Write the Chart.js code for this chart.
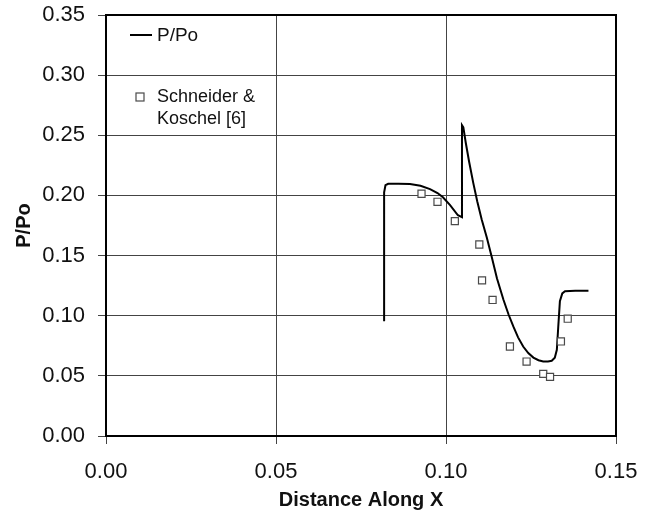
<!DOCTYPE html>
<html>
<head>
<meta charset="utf-8">
<script src="https://cdn.jsdelivr.net/npm/chart.js@4.4.1/dist/chart.umd.min.js"></script>
<style>
  html, body { margin: 0; padding: 0; background: #fff; }
  #wrap { width: 649px; height: 510px; }
</style>
</head>
<body>
<div id="wrap"><canvas id="chart_pressure"></canvas></div>
<script>
// computed P/Po along the wall
var lineX = [0.0818, 0.0818, 0.0822, 0.0830, 0.0860, 0.0894, 0.0925, 0.0953, 0.0975, 0.0991, 0.1012, 0.1035, 0.1047,
             0.1047, 0.1051, 0.1058, 0.1068, 0.1080, 0.1092, 0.1105, 0.1120, 0.1134, 0.1150, 0.1169, 0.1184, 0.1198,
             0.1212, 0.1227, 0.1242, 0.1257, 0.1272, 0.1286, 0.1300, 0.1311, 0.1320, 0.1326, 0.1330, 0.1335, 0.1342,
             0.1350, 0.1380, 0.1419];
var lineY = [0.0953, 0.2025, 0.2085, 0.2097, 0.2097, 0.2094, 0.2080, 0.2052, 0.2020, 0.1985, 0.1920, 0.1835, 0.1819,
             0.2583, 0.2565, 0.2440, 0.2280, 0.2106, 0.1950, 0.1800, 0.1650, 0.1494, 0.1310, 0.1133, 0.1010, 0.0911,
             0.0820, 0.0744, 0.0690, 0.0652, 0.0630, 0.0620, 0.0620, 0.0625, 0.0650, 0.0717, 0.0900, 0.1120, 0.1185,
             0.1203, 0.1208, 0.1208];
// Schneider & Koschel [6] experiment
var expX = [0.0928, 0.0975, 0.1026, 0.1098, 0.1106, 0.1137, 0.1188, 0.1237, 0.1286, 0.1306, 0.1338, 0.1358];
var expY = [0.2014, 0.1947, 0.1786, 0.1592, 0.1294, 0.1131, 0.0744, 0.0619, 0.0517, 0.0492, 0.0786, 0.0975];

var seriesNames = ['P/Po', 'Schneider & Koschel [6]'];
var xTicks = [0.00, 0.05, 0.10, 0.15];
var yTicks = [0.00, 0.05, 0.10, 0.15, 0.20, 0.25, 0.30, 0.35];

var FONT = "'Liberation Sans', Arial, sans-serif";

var linePoints = lineX.map(function (x, i) { return { x: x, y: lineY[i] }; });
var expPoints = expX.map(function (x, i) { return { x: x, y: expY[i] }; });

var chart_pressure = new Chart(document.getElementById('chart_pressure'), {
    type: 'scatter',
    data: {
        datasets: [
            {
                label: seriesNames[0],
                data: linePoints,
                showLine: true,
                borderColor: '#000',
                borderWidth: 2,
                pointRadius: 0,
                tension: 0,
                order: 1
            },
            {
                label: seriesNames[1],
                data: expPoints,
                showLine: false,
                pointStyle: 'rect',
                pointRadius: 5,
                backgroundColor: '#fff',
                borderColor: '#4a4a4a',
                borderWidth: 1.2,
                order: 0
            }
        ]
    },
    options: {
        animation: false,
        responsive: true,
        maintainAspectRatio: false,
        layout: { padding: { left: 0, top: 15, right: 33, bottom: 0 } },
        plugins: {
            legend: { display: false },
            tooltip: { enabled: false },
            title: { display: false }
        },
        scales: {
            x: {
                type: 'linear',
                min: 0,
                max: 0.15,
                afterBuildTicks: function (s) { s.ticks = xTicks.map(function (v) { return { value: v }; }); },
                afterFit: function (s) { s.height = 74; s.paddingLeft = 0; s.paddingRight = 0; },
                ticks: {
                    color: '#111',
                    font: { family: FONT, size: 22 },
                    padding: 15,
                    maxRotation: 0,
                    callback: function (v) { return Number(v).toFixed(2); }
                },
                grid: { color: '#444', lineWidth: 1, tickLength: 8, tickColor: '#444' },
                border: { color: '#000', width: 2 },
                title: {
                    display: true,
                    text: 'Distance Along X',
                    color: '#111',
                    font: { family: FONT, size: 20, weight: 'bold', lineHeight: 1 },
                    padding: { top: 0, bottom: 0 }
                }
            },
            y: {
                type: 'linear',
                min: 0,
                max: 0.35,
                afterBuildTicks: function (s) { s.ticks = yTicks.map(function (v) { return { value: v }; }); },
                afterFit: function (s) { s.width = 106; s.paddingTop = 0; s.paddingBottom = 0; },
                ticks: {
                    color: '#111',
                    font: { family: FONT, size: 22 },
                    padding: 13,
                    callback: function (v) { return Number(v).toFixed(2); }
                },
                grid: { color: '#444', lineWidth: 1, tickLength: 8, tickColor: '#444' },
                border: { color: '#000', width: 2 },
                title: {
                    display: true,
                    text: 'P/Po',
                    color: '#111',
                    font: { family: FONT, size: 20, weight: 'bold' },
                    padding: { top: 12, bottom: 0 }
                }
            }
        }
    },
    plugins: [{
        id: 'whiteBg',
        beforeDraw: (chart) => {
            const ctx = chart.canvas.getContext('2d');
            ctx.save();
            ctx.globalCompositeOperation = 'destination-over';
            ctx.fillStyle = 'white';
            ctx.fillRect(0, 0, chart.canvas.width, chart.canvas.height);
            ctx.restore();
        }
    }, {
        // heavy frame on the top and right edges too
        id: 'frame',
        beforeDatasetsDraw: (chart) => {
            const ctx = chart.ctx;
            const a = chart.chartArea;
            ctx.save();
            ctx.strokeStyle = '#000';
            ctx.lineWidth = 2;
            ctx.beginPath();
            ctx.moveTo(a.left, a.top);
            ctx.lineTo(a.right, a.top);
            ctx.lineTo(a.right, a.bottom);
            ctx.stroke();
            ctx.restore();
        }
    }, {
        // legend sits inside the plot, top left, second label wraps
        id: 'insideLegend',
        afterDraw: (chart) => {
            const ctx = chart.ctx;
            const a = chart.chartArea;
            const ds = chart.data.datasets;
            ctx.save();
            ctx.font = '19px ' + FONT;
            ctx.fillStyle = '#111';
            ctx.textBaseline = 'middle';
            ctx.strokeStyle = '#000';
            ctx.lineWidth = 2;
            ctx.beginPath();
            ctx.moveTo(a.left + 24, a.top + 20);
            ctx.lineTo(a.left + 46, a.top + 20);
            ctx.stroke();
            ctx.fillText(ds[0].label, a.left + 51, a.top + 21);
            ctx.strokeStyle = '#4a4a4a';
            ctx.lineWidth = 1.2;
            ctx.fillStyle = '#fff';
            ctx.fillRect(a.left + 30, a.top + 78, 8, 8);
            ctx.strokeRect(a.left + 30, a.top + 78, 8, 8);
            ctx.fillStyle = '#111';
            ctx.font = '18px ' + FONT;
            const words = ds[1].label.split(' ');
            ctx.fillText(words.slice(0, 2).join(' '), a.left + 51, a.top + 82);
            ctx.fillText(words.slice(2).join(' '), a.left + 51, a.top + 104);
            ctx.restore();
        }
    }]
});
</script>
</body>
</html>
